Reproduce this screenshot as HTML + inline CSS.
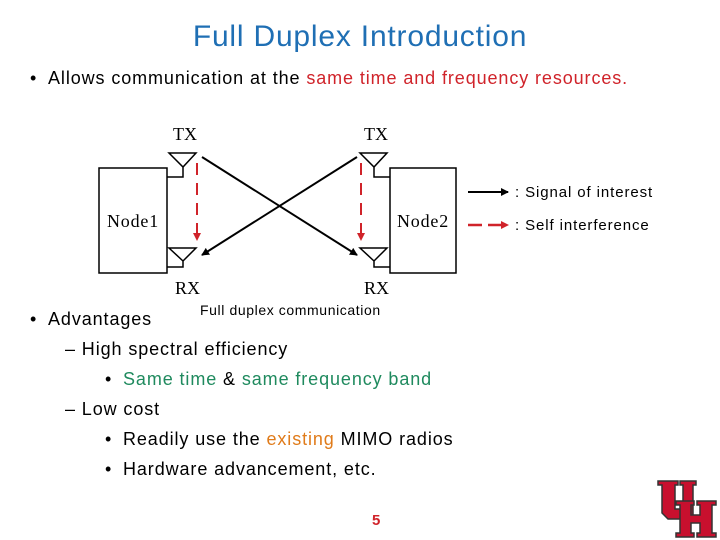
<!DOCTYPE html>
<html><head><style>
body{margin:0;width:720px;height:540px;background:#fff;position:relative;font-family:"Liberation Sans",sans-serif;overflow:hidden}
.t{position:absolute;white-space:nowrap}
.b{font-size:18px;letter-spacing:0.9px}
</style></head><body>
<div class="t" style="left:0;width:720px;text-align:center;top:20px;font-size:30px;letter-spacing:0.8px;color:#1f6fb4">Full Duplex Introduction</div>
<div class="t b" style="left:30px;top:68px">•&nbsp; Allows communication at the <span style="color:#d0232a">same time and frequency resources.</span></div>
<svg width="720" height="540" style="position:absolute;left:0;top:0">
<defs>
<marker id="ab" markerWidth="8" markerHeight="8" refX="7" refY="4" orient="auto" markerUnits="userSpaceOnUse"><path d="M0,0 L8,4 L0,8 z" fill="#000"/></marker>
<marker id="ar" markerWidth="8" markerHeight="8" refX="7" refY="4" orient="auto" markerUnits="userSpaceOnUse"><path d="M0,0 L8,4 L0,8 z" fill="#d0232a"/></marker>
</defs>
<g fill="none" stroke="#000" stroke-width="1.5">
<rect x="99" y="168" width="68" height="105"/>
<rect x="390" y="168" width="66" height="105"/>
<path d="M169,153 L196,153 L183,167 Z M183,167 V177 H167"/>
<path d="M169,248 L196,248 L183,261 Z M183,261 V267 H167"/>
<path d="M360,153 L387,153 L374,167 Z M374,167 V177 H390"/>
<path d="M360,248 L387,248 L374,261 Z M374,261 V267 H390"/>
<line x1="202" y1="157" x2="357" y2="255" stroke-width="2" marker-end="url(#ab)"/>
<line x1="357" y1="157" x2="202" y2="255" stroke-width="2" marker-end="url(#ab)"/>
</g>
<g stroke="#d0232a" stroke-width="2" stroke-dasharray="12,8">
<line x1="197" y1="163" x2="197" y2="240" marker-end="url(#ar)"/>
<line x1="361" y1="163" x2="361" y2="240" marker-end="url(#ar)"/>
</g>
<line x1="468" y1="192" x2="508" y2="192" stroke="#000" stroke-width="2" marker-end="url(#ab)"/>
<line x1="468" y1="225" x2="508" y2="225" stroke="#d0232a" stroke-width="2.5" stroke-dasharray="14,6" marker-end="url(#ar)"/>
<g font-family="Liberation Serif,serif" font-size="18">
<text x="173" y="140">TX</text><text x="364" y="140">TX</text>
<text x="175" y="294">RX</text><text x="364" y="294">RX</text>
<text x="107" y="227" letter-spacing="0.8">Node1</text><text x="397" y="227" letter-spacing="0.8">Node2</text>
</g>
</svg>
<div class="t" style="left:515px;top:184px;font-size:15px;letter-spacing:0.9px">: Signal of interest</div>
<div class="t" style="left:515px;top:217px;font-size:15px;letter-spacing:0.9px">: Self interference</div>
<div class="t" style="left:200px;top:302px;font-size:14px;letter-spacing:0.6px">Full duplex communication</div>
<div class="t b" style="left:30px;top:309px">•&nbsp; Advantages</div>
<div class="t b" style="left:65px;top:339px">– High spectral efficiency</div>
<div class="t b" style="left:105px;top:369px">•</div>
<div class="t b" style="left:123px;top:369px"><span style="color:#1f8a5e">Same time</span> &amp; <span style="color:#1f8a5e">same frequency band</span></div>
<div class="t b" style="left:65px;top:399px">– Low cost</div>
<div class="t b" style="left:105px;top:429px">•</div>
<div class="t b" style="left:123px;top:429px">Readily use the <span style="color:#e07b1a">existing</span> MIMO radios</div>
<div class="t b" style="left:105px;top:459px">•</div>
<div class="t b" style="left:123px;top:459px">Hardware advancement, etc.</div>
<div class="t" style="left:372px;top:512px;font-size:15px;font-weight:bold;color:#d0232a">5</div>
<svg width="62" height="60" style="position:absolute;left:656px;top:479px" viewBox="0 0 62 60">
<g fill="#c8102e" stroke="#333" stroke-width="1.5">
<path d="M2,2 H22 V6 H19 V30 H27 V6 H24 V2 H40 V6 H37 V36 L30,40 H12 L6,34 V6 H2 Z"/>
<path d="M20,22 H38 V26 H35 V36 H44 V26 H41 V22 H60 V26 H56 V54 H60 V58 H41 V54 H44 V44 H35 V54 H38 V58 H20 V54 H24 V26 H20 Z"/>
</g>
</svg>
</body></html>
